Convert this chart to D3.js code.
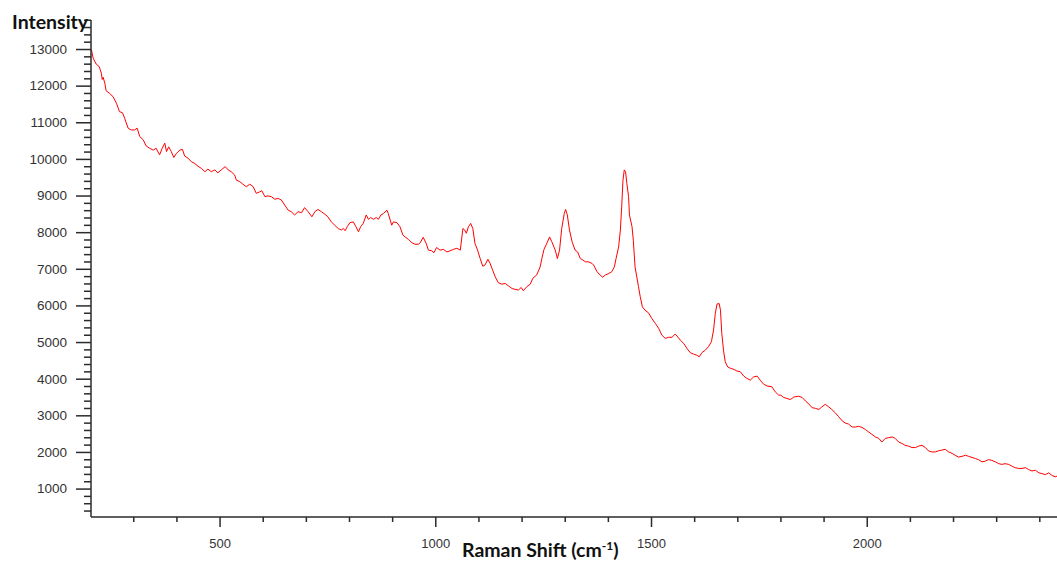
<!DOCTYPE html>
<html>
<head>
<meta charset="utf-8">
<script src="https://cdn.jsdelivr.net/npm/d3@7"></script>
<style>
  html, body { margin: 0; padding: 0; background: #fff; }
  svg { display: block; }
</style>
</head>
<body>
<div id="chart"></div>
<script>
// Raman shift (cm-1) values
const shift = [203,207,214,221,226,228,230,234,237,245,253,261,268,275,280,288,295,303,309,315,323,330,338,346,353,361,367,373,377,382,388,394,400,408,414,419,427,435,442,450,458,466,473,481,489,496,504,513,520,527,535,539,547,554,562,570,578,585,593,598,605,612,620,628,636,643,651,659,666,674,682,690,697,705,714,721,728,736,744,751,759,767,775,782,787,791,796,802,810,816,822,827,833,840,845,850,857,863,868,874,880,888,891,899,903,911,918,925,930,938,946,953,961,965,972,979,984,992,997,1003,1011,1019,1027,1034,1042,1050,1058,1064,1068,1072,1077,1082,1087,1092,1098,1104,1110,1115,1122,1127,1133,1139,1146,1154,1162,1170,1178,1185,1193,1199,1204,1212,1220,1226,1235,1243,1247,1252,1259,1265,1270,1278,1283,1288,1293,1299,1302,1306,1311,1317,1324,1330,1336,1342,1348,1355,1363,1367,1375,1382,1388,1394,1402,1409,1415,1419,1425,1429,1432,1435,1438,1441,1444,1448,1450,1456,1459,1463,1467,1471,1475,1480,1486,1494,1502,1510,1518,1525,1533,1541,1549,1556,1562,1568,1576,1583,1591,1599,1606,1612,1618,1626,1633,1640,1645,1649,1653,1658,1661,1664,1668,1672,1678,1685,1693,1699,1707,1715,1722,1730,1738,1746,1753,1761,1769,1780,1788,1796,1801,1807,1815,1823,1831,1842,1850,1858,1865,1873,1881,1889,1896,1904,1912,1919,1927,1935,1943,1950,1958,1966,1974,1981,1989,1997,2004,2012,2020,2028,2035,2043,2051,2059,2066,2074,2082,2089,2097,2105,2113,2120,2128,2136,2143,2151,2159,2166,2174,2182,2190,2198,2205,2213,2221,2229,2236,2244,2252,2259,2267,2275,2282,2290,2298,2306,2313,2321,2329,2337,2344,2352,2360,2368,2375,2383,2391,2399,2406,2414,2422,2429,2437,2441];

// Intensity values
const intensity = [12980,12750,12590,12520,12340,12170,12230,12070,11860,11790,11700,11520,11290,11260,11110,10840,10790,10790,10840,10610,10520,10350,10290,10240,10290,10110,10290,10430,10200,10330,10200,10040,10150,10240,10260,10080,10020,9920,9880,9800,9740,9650,9720,9650,9700,9620,9700,9790,9700,9650,9560,9420,9380,9310,9240,9310,9240,9060,9100,9130,8970,8990,8970,8900,8920,8880,8740,8600,8560,8470,8560,8530,8670,8560,8420,8560,8620,8560,8490,8420,8280,8190,8100,8060,8100,8040,8150,8260,8280,8150,8010,8150,8240,8470,8350,8400,8350,8400,8350,8470,8510,8600,8510,8190,8280,8260,8150,7920,7870,7800,7710,7670,7670,7710,7860,7690,7510,7490,7440,7580,7510,7530,7460,7490,7530,7560,7510,8100,8060,7970,8150,8240,8100,7690,7510,7280,7070,7100,7260,7150,6960,6780,6620,6580,6600,6530,6460,6440,6420,6490,6400,6510,6580,6740,6830,7050,7280,7530,7710,7870,7740,7510,7280,7510,8100,8510,8620,8470,8060,7740,7510,7460,7280,7240,7190,7190,7150,7100,6920,6830,6770,6830,6870,6920,7050,7280,7600,8060,8690,9420,9700,9650,9330,8970,8470,8150,7780,7050,6780,6510,6240,5960,5870,5800,5640,5510,5370,5190,5100,5130,5130,5220,5140,5050,4960,4830,4710,4670,4640,4600,4710,4780,4870,5010,5330,5780,6040,6050,5870,5240,4780,4460,4320,4280,4250,4210,4190,4070,4010,3960,4050,4070,3960,3850,3800,3780,3640,3550,3550,3490,3460,3430,3500,3520,3490,3390,3320,3210,3190,3160,3230,3300,3230,3160,3070,2960,2850,2790,2760,2680,2680,2700,2670,2610,2550,2480,2410,2370,2270,2370,2390,2410,2370,2270,2230,2180,2160,2120,2120,2160,2180,2120,2030,2000,2000,2030,2050,2070,2000,1960,1910,1860,1880,1910,1880,1850,1820,1790,1730,1750,1790,1770,1730,1680,1660,1680,1660,1610,1570,1550,1550,1570,1520,1480,1500,1430,1410,1380,1430,1360,1320,1340];

const xMajorTicks = [500, 1000, 1500, 2000];
const yMajorTicks = [1000,2000,3000,4000,5000,6000,7000,8000,9000,10000,11000,12000,13000];
const xDomain = [202, 2441];
const yDomain = [224, 13792];

const W = 1057, H = 563;
const margin = {left: 91, right: 0, top: 20, bottom: 46};

const svg = d3.select('#chart').append('svg')
  .attr('width', W).attr('height', H);

const x = d3.scaleLinear().domain(xDomain).range([margin.left, W - margin.right]);
const y = d3.scaleLinear().domain(yDomain).range([H - margin.bottom, margin.top]);

const data = shift.map((s, i) => ({s, v: intensity[i]}));

// Line
const line = d3.line().x(d => x(d.s)).y(d => y(d.v));
svg.append('path')
  .datum(data)
  .attr('fill', 'none')
  .attr('stroke', '#ff0000')
  .attr('stroke-width', 1)
  .attr('stroke-linejoin', 'round')
  .attr('d', line);

const axisColor = '#2b2b2b';
const labelFont = '"Liberation Sans", Arial, sans-serif';

// Y axis minor ticks
const yMinor = d3.range(400, 13801, 200).filter(v => v % 1000 !== 0);
const gyMinor = svg.append('g')
  .attr('transform', `translate(${margin.left},0)`)
  .call(d3.axisLeft(y).tickValues(yMinor).tickSize(7).tickFormat(''));
// Y axis major
const gy = svg.append('g')
  .attr('transform', `translate(${margin.left},0)`)
  .call(d3.axisLeft(y).tickValues(yMajorTicks).tickSize(15).tickPadding(9).tickFormat(d3.format('d')));

// X axis minor
const xMinor = d3.range(300, 2441, 100).filter(v => v % 500 !== 0);
const gxMinor = svg.append('g')
  .attr('transform', `translate(0,${H - margin.bottom})`)
  .call(d3.axisBottom(x).tickValues(xMinor).tickSize(5).tickFormat(''));
const gx = svg.append('g')
  .attr('transform', `translate(0,${H - margin.bottom})`)
  .call(d3.axisBottom(x).tickValues(xMajorTicks).tickSize(10).tickPadding(12).tickFormat(d3.format('d')));

[gyMinor, gy, gxMinor, gx].forEach(g => {
  g.select('.domain').attr('stroke', axisColor).attr('stroke-width', 1.5);
  g.selectAll('.tick line').attr('stroke', axisColor).attr('stroke-width', 1.5);
  g.selectAll('.tick text').attr('fill', '#333').style('font-family', labelFont).style('font-size', '13.5px');
});
// remove outer domain caps
gy.select('.domain').attr('d', `M0,${y.range()[1]}V${y.range()[0]}`);
gyMinor.select('.domain').remove();
gx.select('.domain').attr('d', `M${x.range()[0]},0H${x.range()[1]}`);
gxMinor.select('.domain').remove();
gx.selectAll('.tick text').style('font-size', '13px');

// Axis titles
svg.append('text')
  .attr('x', 12).attr('y', 29)
  .style('font-family', 'Lato, "Open Sans", sans-serif')
  .style('font-weight', 'bold')
  .style('font-size', '19.5px')
  .attr('fill', '#111')
  .text('Intensity');

const xt = svg.append('text')
  .attr('x', 462).attr('y', 557)
  .style('font-family', 'Lato, "Open Sans", sans-serif')
  .style('font-weight', 'bold')
  .style('font-size', '19.5px')
  .attr('fill', '#111');
xt.append('tspan').text('Raman Shift (cm');
xt.append('tspan').attr('dy', -7).style('font-size', '12px').text('-1');
xt.append('tspan').attr('dy', 7).text(')');
</script>
</body>
</html>
